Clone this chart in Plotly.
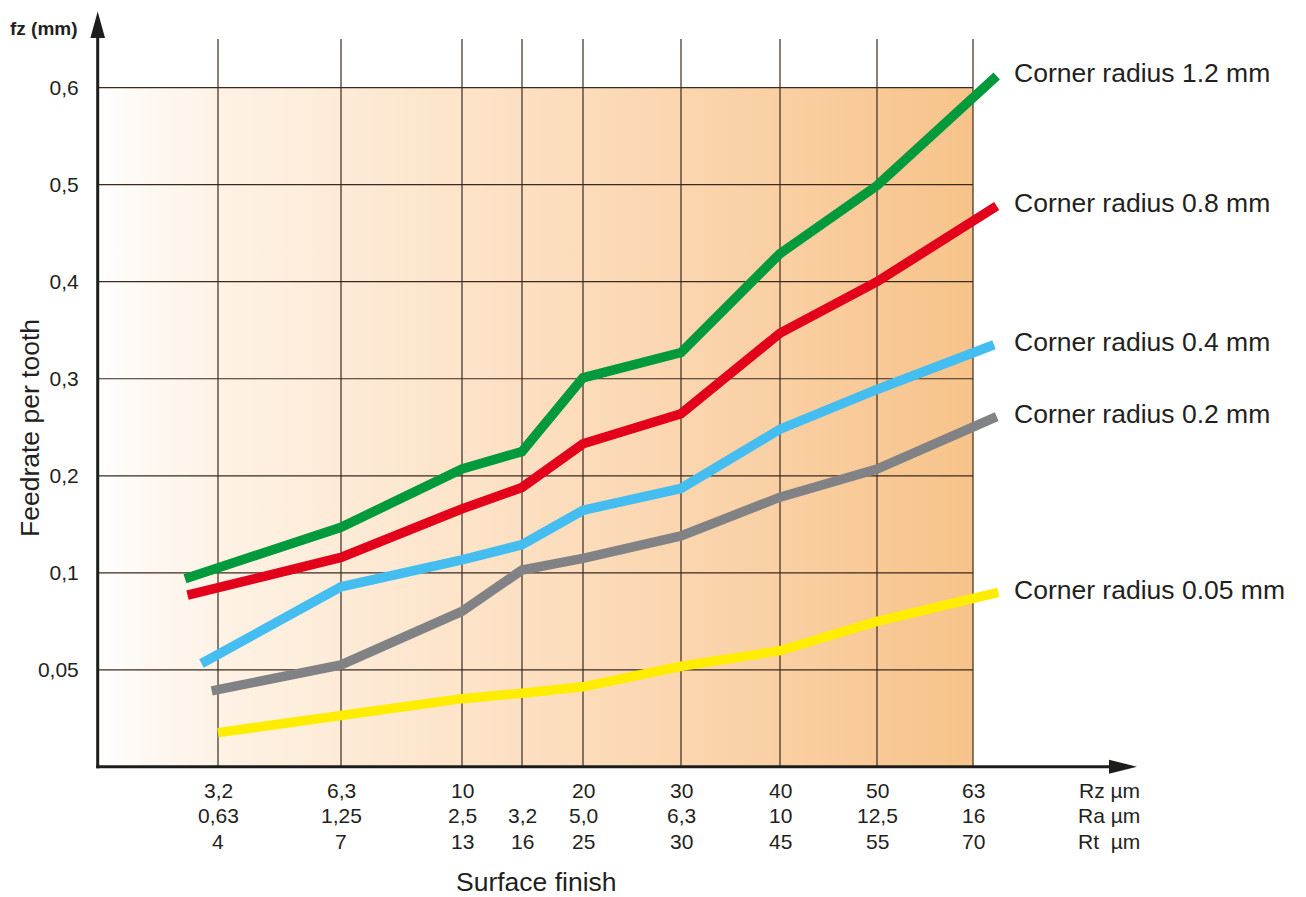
import numpy as np
import plotly.graph_objects as go

# ---------------------------------------------------------------------------
# Data
# ---------------------------------------------------------------------------

RZ = ["3,2", "6,3", "10", "", "20", "30", "40", "50", "63"]
RA = ["0,63", "1,25", "2,5", "3,2", "5,0", "6,3", "10", "12,5", "16"]
RT = ["4", "7", "13", "16", "25", "30", "45", "55", "70"]
ROW_UNITS = ["Rz µm", "Ra µm", "Rt  µm"]

FZ_TICKS = [0.05, 0.1, 0.2, 0.3, 0.4, 0.5, 0.6]
FZ_TICK_TEXT = ["0,05", "0,1", "0,2", "0,3", "0,4", "0,5", "0,6"]

SERIES_NAMES = [
    "Corner radius 1.2 mm",
    "Corner radius 0.8 mm",
    "Corner radius 0.4 mm",
    "Corner radius 0.2 mm",
    "Corner radius 0.05 mm",
]

# fz (mm) at: line start, Rz 6,3 / 10 / (Ra 3,2) / 20 / 30 / 40 / 50, line end
FZ_R12 = [0.097, 0.147, 0.207, 0.225, 0.301, 0.327, 0.429, 0.499, 0.612]
FZ_R08 = [0.0885, 0.116, 0.166, 0.188, 0.233, 0.264, 0.347, 0.400, 0.478]
FZ_R04 = [0.0533, 0.0928, 0.1135, 0.129, 0.1645, 0.187, 0.248, 0.289, 0.335]
FZ_R02 = [0.0392, 0.0526, 0.0802, 0.103, 0.115, 0.138, 0.178, 0.207, 0.261]
FZ_R005 = [0.0177, 0.0261, 0.0352, 0.038, 0.0413, 0.0519, 0.0599, 0.075, 0.090]

# ---------------------------------------------------------------------------
# Layout constants (positions / styles)
# ---------------------------------------------------------------------------

PAGE_W, PAGE_H = 1306, 897
BODY_PAD = 8  # default page margin around the plot div
W, H = PAGE_W - BODY_PAD, PAGE_H - BODY_PAD

# plot area in page pixels
PLOT_L, PLOT_R, PLOT_T, PLOT_B = 98, 1140, 12, 767
UNIT_PX = 97.06  # pixels per y gridline step

# column positions along the x axis (x units = pixels right of the y axis)
COL_X = [120, 243, 364, 424, 485, 583, 682, 779, 875]
LINE_X0 = [87, 89.5, 103.5, 113.7, 120]
LINE_X1 = [898.7, 898.7, 896, 898.7, 900.3]

COLORS = ["#009a3d", "#e2001a", "#44bdf0", "#818285", "#ffed00"]
TEXT = "#231f20"
GRID = "#3a2a1f"
AXIS = "#1d1d1b"
FONT = "Liberation Sans, Arial, Helvetica, sans-serif"

TICK_POS = list(range(len(FZ_TICKS) + 1))


def fz_to_pos(v):
    """Map fz to the chart's stepped vertical scale (one grid step per tick).

    Above the last tick the 0.1-per-step spacing continues.
    """
    vals = [0.0] + FZ_TICKS + [FZ_TICKS[-1] + 0.1]
    pos = TICK_POS + [TICK_POS[-1] + 1]
    return np.interp(v, vals, pos)


def px(x):
    return (x - PLOT_L) / (PLOT_R - PLOT_L)


def py(y):
    return (PLOT_B - y) / (PLOT_B - PLOT_T)


fig = go.Figure()

# background gradient
x_end = COL_X[-1]
y_top = TICK_POS[-1]
fig.add_trace(
    go.Scatter(
        x=[0, x_end, x_end, 0, 0],
        y=[0, 0, y_top, y_top, 0],
        mode="lines",
        line=dict(width=0),
        fill="toself",
        fillgradient=dict(
            type="horizontal",
            colorscale=[
                [0.0, "#ffffff"],
                [0.05, "#fef9f3"],
                [0.14, "#fef2e5"],
                [0.3, "#fdead5"],
                [0.55, "#fcdcbb"],
                [0.75, "#fad1a6"],
                [1.0, "#f7c38a"],
            ],
        ),
        hoverinfo="skip",
        showlegend=False,
    )
)

# grid
gx, gy = [], []
for cx in COL_X:
    gx += [cx, cx, None]
    gy += [0, y_top + 0.5, None]
for tp in TICK_POS[1:]:
    gx += [0, x_end, None]
    gy += [tp, tp, None]
fig.add_trace(
    go.Scatter(
        x=gx, y=gy, mode="lines", line=dict(color=GRID, width=1.2),
        hoverinfo="skip", showlegend=False,
    )
)

# series
all_series = [FZ_R12, FZ_R08, FZ_R04, FZ_R02, FZ_R005]
for i, (name, vals) in enumerate(zip(SERIES_NAMES, all_series)):
    xs = [LINE_X0[i]] + COL_X[1:-1] + [LINE_X1[i]]
    ys = fz_to_pos(vals)
    fig.add_trace(
        go.Scatter(
            x=xs, y=ys, mode="lines", name=name,
            line=dict(color=COLORS[i], width=9.5),
            showlegend=False,
        )
    )
    fig.add_annotation(
        x=914, y=ys[-1], xref="x", yref="y", text=name, showarrow=False,
        xanchor="left", yanchor="middle", yshift=2.5,
        font=dict(size=26.5, color=TEXT, family=FONT),
    )

# x tick rows
rows = [RZ, RA, RT]
row_y = [790, 815.5, 841]
for labels, ry in zip(rows, row_y):
    for cx, lab in zip(COL_X, labels):
        if not lab:
            continue
        fig.add_annotation(
            x=cx, y=0, xref="x", yref="paper", text=lab, showarrow=False,
            xanchor="center", yanchor="middle", yshift=PLOT_B - ry,
            font=dict(size=21, color=TEXT, family=FONT),
        )
for unit, ry in zip(ROW_UNITS, row_y):
    fig.add_annotation(
        x=px(1142), y=py(ry), xref="paper", yref="paper", text=unit,
        showarrow=False, xanchor="right", yanchor="middle",
        font=dict(size=21, color=TEXT, family=FONT),
    )

# axis titles
fig.add_annotation(
    x=px(8), y=py(29), xref="paper", yref="paper", text="<b>fz (mm)</b>",
    showarrow=False, xanchor="left", yanchor="middle",
    font=dict(size=19, color=TEXT, family=FONT),
)
fig.add_annotation(
    x=px(30), y=py(428), xref="paper", yref="paper", text="Feedrate per tooth",
    showarrow=False, textangle=-90, xanchor="center", yanchor="middle",
    font=dict(size=26.5, color=TEXT, family=FONT),
)
fig.add_annotation(
    x=px(536), y=py(882), xref="paper", yref="paper", text="Surface finish",
    showarrow=False, xanchor="center", yanchor="middle",
    font=dict(size=26.5, color=TEXT, family=FONT),
)

# axis lines with arrow heads
ax_x, ax_y = 97.7, 766.7
shapes = [
    dict(type="line", xref="paper", yref="paper",
         x0=px(ax_x), x1=px(ax_x), y0=py(ax_y + 1.5), y1=py(36),
         line=dict(color=AXIS, width=3)),
    dict(type="line", xref="paper", yref="paper",
         x0=px(ax_x - 1.5), x1=px(1110), y0=py(ax_y), y1=py(ax_y),
         line=dict(color=AXIS, width=3)),
    dict(type="path", xref="paper", yref="paper",
         path=f"M{px(ax_x)},{py(11.5)} L{px(ax_x - 7.3)},{py(38)} "
              f"L{px(ax_x + 7.3)},{py(38)} Z",
         fillcolor=AXIS, line=dict(width=0)),
    dict(type="path", xref="paper", yref="paper",
         path=f"M{px(1137)},{py(ax_y)} L{px(1109)},{py(ax_y - 7)} "
              f"L{px(1109)},{py(ax_y + 7)} Z",
         fillcolor=AXIS, line=dict(width=0)),
]

fig.update_layout(
    width=W, height=H,
    margin=dict(
        l=PLOT_L - BODY_PAD, r=PAGE_W - PLOT_R,
        t=PLOT_T - BODY_PAD, b=PAGE_H - PLOT_B,
    ),
    paper_bgcolor="white", plot_bgcolor="rgba(0,0,0,0)",
    showlegend=False,
    shapes=shapes,
    xaxis=dict(
        range=[0, PLOT_R - PLOT_L], showgrid=False, zeroline=False,
        showline=False, showticklabels=False, ticks="", fixedrange=True,
    ),
    yaxis=dict(
        range=[0, (PLOT_B - PLOT_T) / UNIT_PX], showgrid=False, zeroline=False,
        showline=False, tickmode="array", tickvals=TICK_POS[1:],
        ticktext=FZ_TICK_TEXT, ticks="outside", ticklen=14,
        tickcolor="rgba(0,0,0,0)",
        tickfont=dict(size=21, color=TEXT, family=FONT), fixedrange=True,
    ),
)

fig.write_html("out.html")
